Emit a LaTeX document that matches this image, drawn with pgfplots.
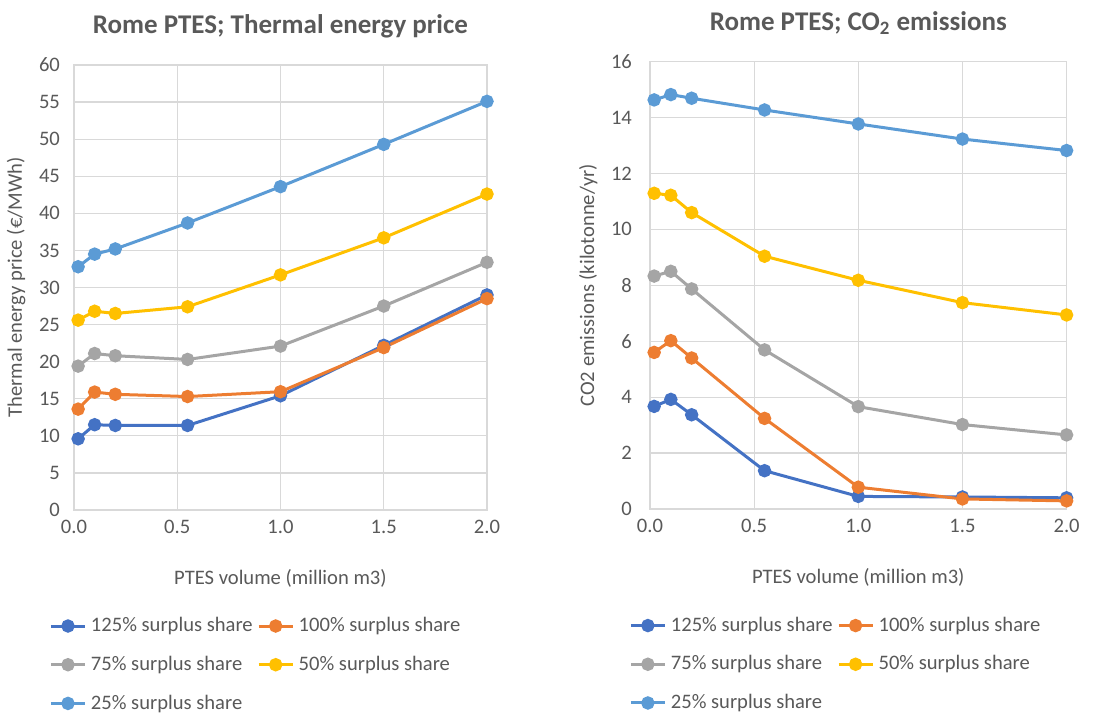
\documentclass[border=0pt]{standalone}
\usepackage{pgfplots}
\pgfplotsset{compat=1.18}
\usepackage{fontspec}
\setmainfont{Carlito}

\definecolor{cA}{HTML}{4472C4}
\definecolor{cB}{HTML}{ED7D31}
\definecolor{cC}{HTML}{A5A5A5}
\definecolor{cD}{HTML}{FFC000}
\definecolor{cE}{HTML}{5B9BD5}
\definecolor{gridc}{HTML}{D9D9D9}
\definecolor{txt}{HTML}{595959}

\pgfplotsset{
  ptes/.style={
    scale only axis,
    xmin=0, xmax=2,
    xtick={0,0.5,1,1.5,2},
    grid=major,
    grid style={color=gridc, line width=0.6pt},
    axis line style={color=gridc, line width=0.6pt},
    major tick length=0pt,
    tick label style={color=txt},
    label style={color=txt},
    /pgf/number format/assume math mode=true,
    xticklabel style={yshift=-1.5pt, /pgf/number format/.cd, fixed, fixed zerofill, precision=1},
    xlabel={PTES volume (million m3)},
    xlabel style={yshift=-11pt},
    title style={color=txt, font=\fontsize{13.5}{16}\selectfont\bfseries, yshift=4pt},
    legend columns=2,
    legend cell align=left,
    legend style={draw=none, fill=none, anchor=north west, text=txt,
      column sep=1pt, row sep=8.3pt, nodes={inner sep=1.2pt}},
    every axis plot/.append style={line width=1.5pt, mark=*, mark size=2.6pt},
  }
}

\begin{document}
\begin{tikzpicture}[font=\fontsize{10.3}{12}\selectfont]
\useasboundingbox (-37pt,-101.5pt) rectangle (520.5pt,255pt);

\begin{axis}[ptes,
  at={(0,0)}, anchor=south west,
  width=206.5pt, height=222.5pt,
  ymin=0, ymax=60, ytick={0,5,...,60},
  yticklabel style={xshift=-3.5pt},
  ylabel={Thermal energy price (€/MWh)},
  title={Rome PTES; Thermal energy price},
  legend style={at={(-0.075,-0.226)}},
]
\addplot[color=cA] coordinates {(0.02,9.6) (0.1,11.5) (0.2,11.4) (0.55,11.4) (1.0,15.4) (1.5,22.2) (2.0,29.0)};
\addplot[color=cB] coordinates {(0.02,13.6) (0.1,15.9) (0.2,15.6) (0.55,15.3) (1.0,15.95) (1.5,21.9) (2.0,28.5)};
\addplot[color=cC] coordinates {(0.02,19.4) (0.1,21.1) (0.2,20.8) (0.55,20.3) (1.0,22.1) (1.5,27.5) (2.0,33.4)};
\addplot[color=cD] coordinates {(0.02,25.6) (0.1,26.8) (0.2,26.5) (0.55,27.4) (1.0,31.7) (1.5,36.7) (2.0,42.6)};
\addplot[color=cE] coordinates {(0.02,32.8) (0.1,34.5) (0.2,35.2) (0.55,38.7) (1.0,43.6) (1.5,49.3) (2.0,55.1)};
\legend{125\% surplus share, 100\% surplus share, 75\% surplus share, 50\% surplus share, 25\% surplus share}
\end{axis}

\begin{axis}[ptes,
  at={(288pt,0.5pt)}, anchor=south west,
  width=208.3pt, height=223.7pt,
  ymin=0, ymax=16, ytick={0,2,...,16},
  yticklabel style={xshift=-5.5pt},
  ylabel={CO2 emissions (kilotonne/yr)},
  title={Rome PTES; CO\textsubscript{2} emissions},
  legend style={at={(-0.065,-0.226)}},
]
\addplot[color=cA] coordinates {(0.02,3.67) (0.1,3.92) (0.2,3.37) (0.55,1.37) (1.0,0.45) (1.5,0.43) (2.0,0.40)};
\addplot[color=cB] coordinates {(0.02,5.60) (0.1,6.02) (0.2,5.40) (0.55,3.24) (1.0,0.78) (1.5,0.36) (2.0,0.29)};
\addplot[color=cC] coordinates {(0.02,8.33) (0.1,8.50) (0.2,7.87) (0.55,5.69) (1.0,3.66) (1.5,3.02) (2.0,2.65)};
\addplot[color=cD] coordinates {(0.02,11.29) (0.1,11.22) (0.2,10.60) (0.55,9.04) (1.0,8.18) (1.5,7.38) (2.0,6.94)};
\addplot[color=cE] coordinates {(0.02,14.63) (0.1,14.82) (0.2,14.69) (0.55,14.27) (1.0,13.77) (1.5,13.23) (2.0,12.82)};
\legend{125\% surplus share, 100\% surplus share, 75\% surplus share, 50\% surplus share, 25\% surplus share}
\end{axis}
\end{tikzpicture}
\end{document}
